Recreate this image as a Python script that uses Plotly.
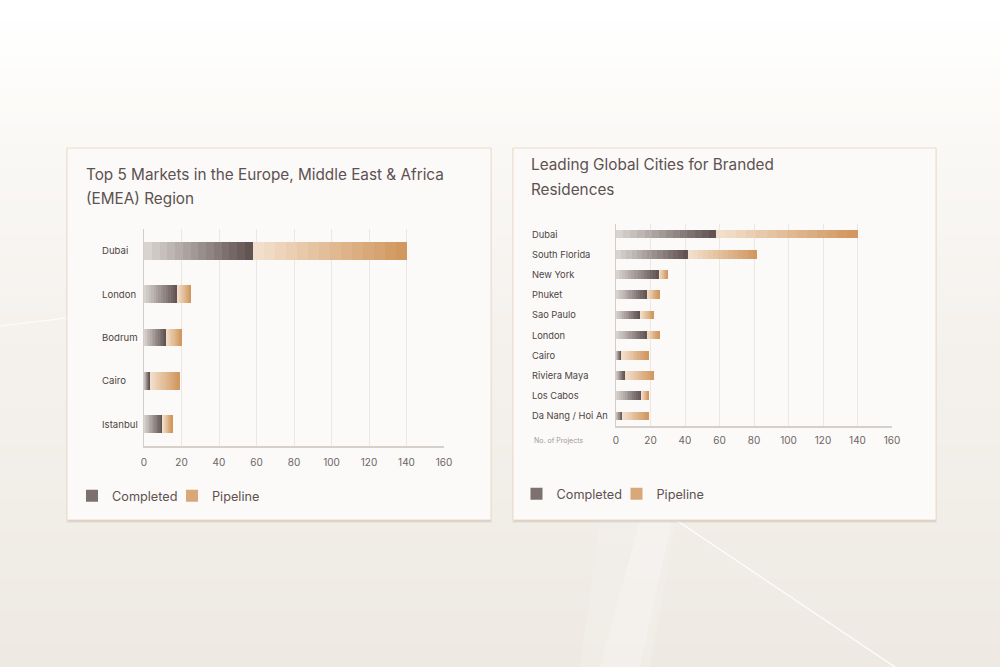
import plotly.graph_objects as go

W, H = 1000, 667

# ---------------- data ----------------
emea_cities = ["Dubai", "London", "Bodrum", "Cairo", "Istanbul"]
emea_completed = [58, 18, 12, 3, 10]
emea_pipeline = [82, 7, 8, 16, 5]

global_cities = ["Dubai", "South Florida", "New York", "Phuket", "Sao Paulo",
                 "London", "Cairo", "Riviera Maya", "Los Cabos", "Da Nang / Hoi An"]
global_completed = [58, 42, 25, 18, 14, 18, 3, 5, 15, 4]
global_pipeline = [82, 40, 5, 7, 8, 7, 16, 17, 4, 15]

x_ticks = [0, 20, 40, 60, 80, 100, 120, 140, 160]
series_names = ["Completed", "Pipeline"]

left_title = ["Top 5 Markets in the Europe, Middle East & Africa", "(EMEA) Region"]
right_title = ["Leading Global Cities for Branded", "Residences"]
axis_note = "No. of Projects"

# ---------------- style ----------------
FONT = "Inter"
TXT = "#5e5151"
COMPLETED_GRAD = ("#ddd8d4", "#5d4f4e")
PIPELINE_GRAD = ("#f3e2cf", "#d0955c")
NSEG = 14


def px(x):
    return x / W


def py(y):
    return 1 - y / H


def hex2rgb(h):
    h = h.lstrip("#")
    return tuple(int(h[i:i + 2], 16) for i in (0, 2, 4))


def lerp(c0, c1, t):
    a, b = hex2rgb(c0), hex2rgb(c1)
    return "rgb(%d,%d,%d)" % tuple(round(a[i] + (b[i] - a[i]) * t) for i in range(3))


fig = go.Figure()


def add_bars(cats, completed, pipeline, xa, ya, legend, width):
    for s, (vals, starts, grad) in enumerate([
        (completed, [0] * len(completed), COMPLETED_GRAD),
        (pipeline, completed, PIPELINE_GRAD),
    ]):
        for k in range(NSEG):
            t = (k + 0.5) / NSEG
            fig.add_trace(go.Bar(
                y=cats,
                x=[v / NSEG for v in vals],
                base=[b + v * k / NSEG for b, v in zip(starts, vals)],
                orientation="h",
                width=width,
                marker=dict(color=lerp(grad[0], grad[1], t), line=dict(width=0)),
                name=series_names[s],
                legendgroup=legend + series_names[s],
                showlegend=(k == int(NSEG * 0.72)),
                legend=legend,
                xaxis=xa, yaxis=ya,
                hovertemplate="%{y}: " + series_names[s] + "<extra></extra>",
            ))


add_bars(emea_cities, emea_completed, emea_pipeline, "x", "y", "legend", 0.41)
add_bars(global_cities, global_completed, global_pipeline, "x2", "y2", "legend2", 0.43)

# ---------------- background decoration ----------------
shapes = []
stops = [(0, "#ffffff"), (45, "#fefefd"), (150, "#faf8f5"), (320, "#f5f2ee"),
         (520, "#f1ede7"), (667, "#eeeae3")]
NST = 60
for i in range(NST):
    y0 = H * i / NST
    y1 = H * (i + 1) / NST
    yc = (y0 + y1) / 2
    for j in range(len(stops) - 1):
        if stops[j][0] <= yc <= stops[j + 1][0]:
            t = (yc - stops[j][0]) / (stops[j + 1][0] - stops[j][0])
            col = lerp(stops[j][1], stops[j + 1][1], t)
            break
    shapes.append(dict(type="rect", xref="paper", yref="paper", x0=0, x1=1,
                       y0=py(y1 + 0.6), y1=py(y0), fillcolor=col, line=dict(width=0),
                       layer="below"))

# light streaks (soft)
for (a, b, c, d, op) in [(600, 676, 650, 580, 0.12), (640, 672, 640, 600, 0.22)]:
    shapes.append(dict(type="path", xref="paper", yref="paper",
                       path="M %f %f L %f %f L %f %f L %f %f Z" % (px(a), py(520), px(b), py(520),
                                                                 px(c), py(667), px(d), py(667)),
                       fillcolor="rgba(255,255,255,%.2f)" % op, line=dict(width=0), layer="below"))
shapes.append(dict(type="line", xref="paper", yref="paper", x0=px(676), y0=py(520),
                   x1=px(895), y1=py(667), line=dict(color="rgba(255,255,255,0.9)", width=1.3),
                   layer="below"))
shapes.append(dict(type="line", xref="paper", yref="paper", x0=px(0), y0=py(326),
                   x1=px(67), y1=py(318), line=dict(color="rgba(255,255,255,0.85)", width=1.2),
                   layer="below"))

# cards
for (x0, x1) in [(67, 491), (513, 936)]:
    shapes.append(dict(type="rect", xref="paper", yref="paper", x0=px(x0 - 1), x1=px(x1 + 1),
                       y0=py(523), y1=py(148), fillcolor="rgba(170,160,150,0.12)",
                       line=dict(width=0), layer="below"))
    shapes.append(dict(type="rect", xref="paper", yref="paper", x0=px(x0 + 1), x1=px(x1),
                       y0=py(521.5), y1=py(150), fillcolor="rgba(160,150,142,0.35)",
                       line=dict(width=0), layer="below"))
    shapes.append(dict(type="rect", xref="paper", yref="paper", x0=px(x0), x1=px(x1),
                       y0=py(520), y1=py(148), fillcolor="#fbfaf8",
                       line=dict(color="#ecdccb", width=1), layer="below"))

# ---------------- annotations ----------------
ann = []
for i, line in enumerate(left_title):
    ann.append(dict(text=line, xref="paper", yref="paper", x=px(84), y=py(174 + 24 * i),
                    xanchor="left", yanchor="middle", showarrow=False,
                    font=dict(family=FONT, size=15.3, color=TXT)))
for i, line in enumerate(right_title):
    ann.append(dict(text=line, xref="paper", yref="paper", x=px(529), y=py(165 + 24 * i),
                    xanchor="left", yanchor="middle", showarrow=False,
                    font=dict(family=FONT, size=15.3, color=TXT)))
for c in emea_cities:
    ann.append(dict(text=c, xref="paper", yref="y", x=px(100), y=c, xanchor="left",
                    yanchor="middle", showarrow=False,
                    font=dict(family=FONT, size=9.6, color="#4e4444")))
for c in global_cities:
    ann.append(dict(text=c, xref="paper", yref="y2", x=px(530), y=c, xanchor="left",
                    yanchor="middle", showarrow=False,
                    font=dict(family=FONT, size=9.3, color="#4e4444")))
ann.append(dict(text=axis_note, xref="paper", yref="paper", x=px(532), y=py(440),
                xanchor="left", yanchor="middle", showarrow=False,
                font=dict(family=FONT, size=7, color="#a29898")))

xaxis_common = dict(range=[0, 160], tickvals=x_ticks, showgrid=True, gridcolor="#ebe7e3",
                    gridwidth=1, zeroline=False, showline=True, linecolor="#d6cfca",
                    linewidth=2, ticks="", tickfont=dict(family=FONT, size=10, color="#6e6464"),
                    fixedrange=True, automargin=False)
yaxis_common = dict(type="category", showgrid=False, zeroline=False, showline=True,
                    linecolor="#d3ccc7", linewidth=1, showticklabels=False, ticks="",
                    fixedrange=True, automargin=False)

legend_common = dict(orientation="h", xanchor="left", yanchor="middle",
                     bgcolor="rgba(0,0,0,0)", font=dict(family=FONT, size=12.7, color=TXT),
                     itemclick="toggle", traceorder="normal", entrywidth=55,
                     entrywidthmode="pixels")

fig.update_layout(
    width=W, height=H,
    margin=dict(l=0, r=0, t=0, b=0, pad=0, autoexpand=False),
    paper_bgcolor="#f4f1ec",
    plot_bgcolor="rgba(0,0,0,0)",
    barmode="overlay",
    bargap=0,
    font=dict(family=FONT, color=TXT),
    xaxis=dict(domain=[px(144), px(444)], anchor="y", ticklabelstandoff=6, **xaxis_common),
    yaxis=dict(domain=[py(446), py(229)], anchor="x", categoryorder="array",
               categoryarray=emea_cities, range=[len(emea_cities) - 0.5, -0.5], **yaxis_common),
    xaxis2=dict(domain=[px(616), px(892)], anchor="y2", ticklabelstandoff=4, **xaxis_common),
    yaxis2=dict(domain=[py(426), py(224)], anchor="x2", categoryorder="array",
                categoryarray=global_cities, range=[len(global_cities) - 0.5, -0.5],
                **yaxis_common),
    legend=dict(x=px(72), y=py(496), **legend_common),
    legend2=dict(x=px(516.5), y=py(494), **legend_common),
    shapes=shapes,
    annotations=ann,
    showlegend=True,
)

fig.write_html("out.html")
